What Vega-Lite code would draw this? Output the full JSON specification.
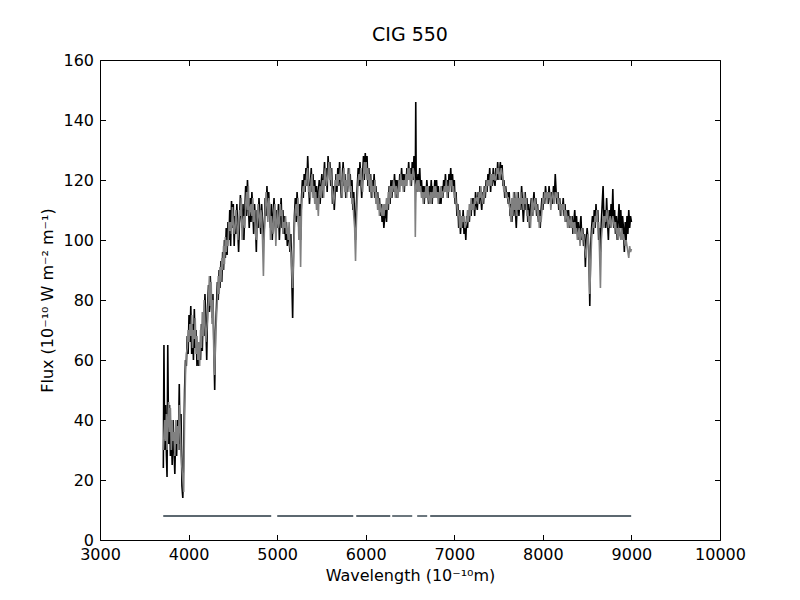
{
  "$schema": "https://vega.github.io/schema/vega-lite/v6.json",
  "autosize": "none",
  "padding": {"left": 100, "top": 60, "right": 80, "bottom": 60},
  "width": 620,
  "height": 480,
  "background": "white",
  "title": {"text": "CIG 550", "fontSize": 19, "fontWeight": "normal", "font": "DejaVu Sans", "color": "black", "offset": 7},
  "config": {
    "view": {"stroke": "black", "strokeWidth": 1},
    "axis": {
      "domain": false, "grid": false, "tickColor": "black", "tickSize": -5.5,
      "labelColor": "black", "labelFont": "DejaVu Sans", "labelFontSize": 16,
      "labelPadding": 12, "labelOverlap": false, "labelFlush": false,
      "titleColor": "black", "titleFont": "DejaVu Sans", "titleFontSize": 16, "titleFontWeight": "normal"
    }
  },
  "datasets": {
    "spec": [
      {"w":3715,"o":24,"m":30},{"w":3722,"o":65,"m":35},{"w":3730,"o":30,"m":40},{"w":3740,"o":45,"m":33},
      {"w":3750,"o":28,"m":42},{"w":3757,"o":21,"m":30},{"w":3765,"o":65,"m":38},{"w":3775,"o":32,"m":46},
      {"w":3785,"o":45,"m":36},{"w":3795,"o":28,"m":44},{"w":3805,"o":38,"m":30},{"w":3815,"o":25,"m":40},
      {"w":3825,"o":40,"m":33},{"w":3835,"o":30,"m":36},{"w":3845,"o":22,"m":28},{"w":3855,"o":36,"m":40},
      {"w":3865,"o":28,"m":32},{"w":3875,"o":40,"m":38},{"w":3885,"o":32,"m":30},{"w":3895,"o":52,"m":45},
      {"w":3905,"o":30,"m":38},{"w":3915,"o":42,"m":28},{"w":3925,"o":18,"m":24},{"w":3935,"o":14,"m":20},
      {"w":3945,"o":30,"m":16},{"w":3955,"o":50,"m":40},{"w":3965,"o":60,"m":55},{"w":3975,"o":58,"m":62},
      {"w":3985,"o":68,"m":64},{"w":3995,"o":62,"m":70},{"w":4005,"o":75,"m":66},{"w":4015,"o":66,"m":72},
      {"w":4025,"o":78,"m":68},{"w":4035,"o":62,"m":75},{"w":4045,"o":72,"m":64},{"w":4055,"o":60,"m":70},
      {"w":4065,"o":77,"m":67},{"w":4075,"o":64,"m":74},{"w":4085,"o":70,"m":62},{"w":4095,"o":58,"m":68},
      {"w":4105,"o":66,"m":60},{"w":4115,"o":58,"m":66},{"w":4125,"o":64,"m":58},{"w":4135,"o":60,"m":70},
      {"w":4145,"o":72,"m":64},{"w":4155,"o":63,"m":76},{"w":4165,"o":76,"m":68},{"w":4175,"o":68,"m":80},
      {"w":4185,"o":82,"m":72},{"w":4195,"o":72,"m":66},{"w":4205,"o":60,"m":70},{"w":4215,"o":78,"m":74},
      {"w":4225,"o":85,"m":80},{"w":4235,"o":76,"m":88},{"w":4245,"o":88,"m":78},{"w":4255,"o":80,"m":86},
      {"w":4265,"o":74,"m":72},{"w":4275,"o":82,"m":80},{"w":4285,"o":66,"m":62},{"w":4295,"o":50,"m":55},
      {"w":4305,"o":70,"m":68},{"w":4315,"o":78,"m":74},{"w":4325,"o":86,"m":80},{"w":4335,"o":80,"m":88},
      {"w":4345,"o":90,"m":82},{"w":4355,"o":84,"m":91},{"w":4365,"o":93,"m":86},{"w":4375,"o":86,"m":94},
      {"w":4385,"o":96,"m":90},{"w":4395,"o":90,"m":98},{"w":4405,"o":100,"m":92},{"w":4415,"o":94,"m":101},
      {"w":4425,"o":104,"m":96},{"w":4435,"o":95,"m":100},{"w":4445,"o":106,"m":98},{"w":4455,"o":100,"m":106},
      {"w":4465,"o":110,"m":103},{"w":4475,"o":98,"m":106},{"w":4485,"o":113,"m":102},{"w":4495,"o":104,"m":111},
      {"w":4505,"o":112,"m":106},{"w":4515,"o":98,"m":102},{"w":4525,"o":108,"m":104},{"w":4535,"o":102,"m":110},
      {"w":4545,"o":112,"m":106},{"w":4555,"o":104,"m":100},{"w":4565,"o":96,"m":104},{"w":4575,"o":106,"m":110},
      {"w":4585,"o":115,"m":108},{"w":4595,"o":108,"m":114},{"w":4605,"o":104,"m":100},{"w":4615,"o":112,"m":106},
      {"w":4625,"o":100,"m":108},{"w":4635,"o":110,"m":104},{"w":4645,"o":118,"m":112},{"w":4655,"o":108,"m":116},
      {"w":4665,"o":120,"m":110},{"w":4675,"o":112,"m":118},{"w":4685,"o":104,"m":108},{"w":4695,"o":114,"m":110},
      {"w":4705,"o":106,"m":112},{"w":4715,"o":116,"m":108},{"w":4725,"o":110,"m":114},{"w":4735,"o":102,"m":106},
      {"w":4745,"o":112,"m":110},{"w":4755,"o":106,"m":102},{"w":4765,"o":96,"m":100},{"w":4775,"o":110,"m":106},
      {"w":4785,"o":104,"m":112},{"w":4795,"o":114,"m":108},{"w":4805,"o":108,"m":104},{"w":4815,"o":102,"m":110},
      {"w":4825,"o":112,"m":108},{"w":4835,"o":106,"m":100},{"w":4845,"o":100,"m":88},{"w":4855,"o":104,"m":102},
      {"w":4865,"o":114,"m":110},{"w":4875,"o":108,"m":116},{"w":4885,"o":118,"m":112},{"w":4895,"o":110,"m":106},
      {"w":4905,"o":116,"m":114},{"w":4915,"o":108,"m":112},{"w":4925,"o":104,"m":100},{"w":4935,"o":112,"m":108},
      {"w":4945,"o":100,"m":104},{"w":4955,"o":108,"m":102},{"w":4965,"o":114,"m":110},{"w":4975,"o":106,"m":112},
      {"w":4985,"o":102,"m":98},{"w":4995,"o":110,"m":106},{"w":5005,"o":104,"m":110},{"w":5015,"o":112,"m":104},
      {"w":5025,"o":100,"m":106},{"w":5035,"o":108,"m":112},{"w":5045,"o":114,"m":108},{"w":5055,"o":104,"m":110},
      {"w":5065,"o":110,"m":102},{"w":5075,"o":102,"m":106},{"w":5085,"o":108,"m":104},{"w":5095,"o":100,"m":108},
      {"w":5105,"o":106,"m":102},{"w":5115,"o":98,"m":104},{"w":5125,"o":104,"m":100},{"w":5135,"o":100,"m":106},
      {"w":5145,"o":96,"m":98},{"w":5155,"o":102,"m":96},{"w":5165,"o":88,"m":90},{"w":5175,"o":74,"m":84},
      {"w":5185,"o":96,"m":94},{"w":5195,"o":108,"m":104},{"w":5205,"o":114,"m":110},{"w":5215,"o":106,"m":112},
      {"w":5225,"o":116,"m":108},{"w":5235,"o":110,"m":114},{"w":5245,"o":104,"m":100},{"w":5255,"o":112,"m":108},
      {"w":5265,"o":100,"m":91},{"w":5275,"o":114,"m":110},{"w":5285,"o":120,"m":116},{"w":5295,"o":114,"m":118},
      {"w":5305,"o":122,"m":116},{"w":5315,"o":116,"m":120},{"w":5325,"o":124,"m":118},{"w":5335,"o":118,"m":122},
      {"w":5345,"o":128,"m":124},{"w":5355,"o":120,"m":116},{"w":5365,"o":112,"m":118},{"w":5375,"o":118,"m":114},
      {"w":5385,"o":124,"m":120},{"w":5395,"o":116,"m":122},{"w":5405,"o":122,"m":114},{"w":5415,"o":114,"m":118},
      {"w":5425,"o":120,"m":112},{"w":5435,"o":112,"m":116},{"w":5445,"o":118,"m":110},{"w":5455,"o":110,"m":114},
      {"w":5465,"o":116,"m":108},{"w":5475,"o":120,"m":116},{"w":5485,"o":112,"m":118},{"w":5495,"o":118,"m":114},
      {"w":5505,"o":122,"m":118},{"w":5515,"o":114,"m":120},{"w":5525,"o":120,"m":114},{"w":5535,"o":126,"m":122},
      {"w":5545,"o":118,"m":124},{"w":5555,"o":124,"m":118},{"w":5565,"o":116,"m":120},{"w":5575,"o":128,"m":122},
      {"w":5585,"o":122,"m":126},{"w":5595,"o":126,"m":120},{"w":5605,"o":118,"m":124},{"w":5615,"o":124,"m":118},
      {"w":5625,"o":112,"m":116},{"w":5635,"o":118,"m":112},{"w":5645,"o":110,"m":114},{"w":5655,"o":116,"m":120},
      {"w":5665,"o":122,"m":118},{"w":5675,"o":116,"m":122},{"w":5685,"o":124,"m":118},{"w":5695,"o":118,"m":122},
      {"w":5705,"o":126,"m":120},{"w":5715,"o":120,"m":124},{"w":5725,"o":114,"m":118},{"w":5735,"o":120,"m":114},
      {"w":5745,"o":126,"m":122},{"w":5755,"o":118,"m":124},{"w":5765,"o":122,"m":116},{"w":5775,"o":114,"m":120},
      {"w":5785,"o":120,"m":114},{"w":5795,"o":116,"m":122},{"w":5805,"o":124,"m":118},{"w":5815,"o":118,"m":124},
      {"w":5825,"o":122,"m":116},{"w":5835,"o":114,"m":118},{"w":5845,"o":120,"m":112},{"w":5855,"o":110,"m":114},
      {"w":5865,"o":116,"m":108},{"w":5875,"o":108,"m":104},{"w":5885,"o":100,"m":93},{"w":5895,"o":112,"m":106},
      {"w":5905,"o":118,"m":114},{"w":5915,"o":124,"m":120},{"w":5925,"o":118,"m":122},{"w":5935,"o":126,"m":120},
      {"w":5945,"o":120,"m":124},{"w":5955,"o":114,"m":118},{"w":5965,"o":122,"m":116},{"w":5975,"o":128,"m":122},
      {"w":5985,"o":120,"m":126},{"w":5995,"o":129,"m":122},{"w":6005,"o":122,"m":126},{"w":6015,"o":128,"m":120},
      {"w":6025,"o":118,"m":124},{"w":6035,"o":124,"m":118},{"w":6045,"o":116,"m":122},{"w":6055,"o":122,"m":116},
      {"w":6065,"o":114,"m":120},{"w":6075,"o":120,"m":114},{"w":6085,"o":116,"m":118},{"w":6095,"o":122,"m":116},
      {"w":6105,"o":114,"m":120},{"w":6115,"o":118,"m":112},{"w":6125,"o":112,"m":116},{"w":6135,"o":116,"m":110},
      {"w":6145,"o":110,"m":114},{"w":6155,"o":114,"m":108},{"w":6165,"o":108,"m":112},{"w":6175,"o":112,"m":110},
      {"w":6185,"o":106,"m":108},{"w":6195,"o":110,"m":112},{"w":6205,"o":104,"m":108},{"w":6215,"o":108,"m":112},
      {"w":6225,"o":112,"m":110},{"w":6235,"o":106,"m":114},{"w":6245,"o":114,"m":110},{"w":6255,"o":110,"m":116},
      {"w":6265,"o":118,"m":112},{"w":6275,"o":112,"m":118},{"w":6285,"o":120,"m":114},{"w":6295,"o":114,"m":118},
      {"w":6305,"o":120,"m":116},{"w":6315,"o":116,"m":120},{"w":6325,"o":122,"m":118},{"w":6335,"o":116,"m":114},
      {"w":6345,"o":120,"m":118},{"w":6355,"o":114,"m":116},{"w":6365,"o":120,"m":114},{"w":6375,"o":116,"m":120},
      {"w":6385,"o":122,"m":116},{"w":6395,"o":118,"m":122},{"w":6405,"o":124,"m":118},{"w":6415,"o":118,"m":120},
      {"w":6425,"o":122,"m":116},{"w":6435,"o":116,"m":120},{"w":6445,"o":122,"m":118},{"w":6455,"o":118,"m":122},
      {"w":6465,"o":124,"m":118},{"w":6475,"o":120,"m":124},{"w":6485,"o":126,"m":120},{"w":6495,"o":120,"m":124},
      {"w":6505,"o":124,"m":118},{"w":6515,"o":118,"m":122},{"w":6525,"o":126,"m":120},{"w":6535,"o":120,"m":124},
      {"w":6545,"o":128,"m":122},{"w":6555,"o":122,"m":118},{"w":6560,"o":118,"m":101},{"w":6565,"o":146,"m":112},
      {"w":6570,"o":120,"m":118},{"w":6580,"o":116,"m":120},{"w":6590,"o":122,"m":116},{"w":6600,"o":118,"m":120},
      {"w":6610,"o":124,"m":116},{"w":6620,"o":116,"m":118},{"w":6630,"o":120,"m":114},{"w":6640,"o":114,"m":116},
      {"w":6650,"o":118,"m":112},{"w":6660,"o":112,"m":116},{"w":6670,"o":118,"m":114},{"w":6680,"o":114,"m":118},
      {"w":6690,"o":120,"m":114},{"w":6700,"o":116,"m":118},{"w":6710,"o":112,"m":114},{"w":6720,"o":118,"m":112},
      {"w":6730,"o":114,"m":116},{"w":6740,"o":120,"m":112},{"w":6750,"o":112,"m":116},{"w":6760,"o":118,"m":114},
      {"w":6770,"o":114,"m":118},{"w":6780,"o":120,"m":114},{"w":6790,"o":116,"m":118},{"w":6800,"o":120,"m":114},
      {"w":6810,"o":114,"m":116},{"w":6820,"o":118,"m":112},{"w":6830,"o":112,"m":116},{"w":6840,"o":116,"m":114},
      {"w":6850,"o":112,"m":118},{"w":6860,"o":118,"m":114},{"w":6870,"o":114,"m":116},{"w":6880,"o":120,"m":116},
      {"w":6890,"o":116,"m":118},{"w":6900,"o":122,"m":116},{"w":6910,"o":116,"m":120},{"w":6920,"o":120,"m":114},
      {"w":6930,"o":114,"m":118},{"w":6940,"o":122,"m":116},{"w":6950,"o":118,"m":120},{"w":6960,"o":124,"m":118},
      {"w":6970,"o":116,"m":120},{"w":6980,"o":122,"m":116},{"w":6990,"o":116,"m":118},{"w":7000,"o":120,"m":114},
      {"w":7010,"o":112,"m":116},{"w":7020,"o":116,"m":112},{"w":7030,"o":108,"m":112},{"w":7040,"o":112,"m":108},
      {"w":7050,"o":104,"m":110},{"w":7060,"o":110,"m":104},{"w":7070,"o":102,"m":108},{"w":7080,"o":108,"m":104},
      {"w":7090,"o":104,"m":108},{"w":7100,"o":110,"m":106},{"w":7110,"o":102,"m":108},{"w":7120,"o":106,"m":104},
      {"w":7130,"o":100,"m":105},{"w":7140,"o":108,"m":106},{"w":7150,"o":104,"m":110},{"w":7160,"o":110,"m":106},
      {"w":7170,"o":106,"m":112},{"w":7180,"o":112,"m":108},{"w":7190,"o":108,"m":114},{"w":7200,"o":114,"m":110},
      {"w":7210,"o":110,"m":112},{"w":7220,"o":114,"m":110},{"w":7230,"o":108,"m":114},{"w":7240,"o":116,"m":112},
      {"w":7250,"o":112,"m":114},{"w":7260,"o":110,"m":114},{"w":7270,"o":116,"m":112},{"w":7280,"o":112,"m":116},
      {"w":7290,"o":118,"m":114},{"w":7300,"o":114,"m":118},{"w":7310,"o":110,"m":114},{"w":7320,"o":116,"m":112},
      {"w":7330,"o":112,"m":116},{"w":7340,"o":118,"m":114},{"w":7350,"o":114,"m":118},{"w":7360,"o":120,"m":116},
      {"w":7370,"o":116,"m":120},{"w":7380,"o":122,"m":118},{"w":7390,"o":118,"m":120},{"w":7400,"o":124,"m":118},
      {"w":7410,"o":116,"m":122},{"w":7420,"o":122,"m":118},{"w":7430,"o":118,"m":122},{"w":7440,"o":124,"m":120},
      {"w":7450,"o":120,"m":122},{"w":7460,"o":118,"m":120},{"w":7470,"o":124,"m":120},{"w":7480,"o":120,"m":124},
      {"w":7490,"o":126,"m":122},{"w":7500,"o":120,"m":124},{"w":7510,"o":122,"m":120},{"w":7520,"o":126,"m":122},
      {"w":7530,"o":120,"m":124},{"w":7540,"o":125,"m":122},{"w":7550,"o":118,"m":120},{"w":7560,"o":120,"m":116},
      {"w":7570,"o":114,"m":118},{"w":7580,"o":118,"m":114},{"w":7590,"o":114,"m":116},{"w":7600,"o":116,"m":114},
      {"w":7610,"o":112,"m":114},{"w":7620,"o":116,"m":112},{"w":7630,"o":108,"m":110},{"w":7640,"o":112,"m":106},
      {"w":7650,"o":106,"m":114},{"w":7660,"o":114,"m":108},{"w":7670,"o":108,"m":116},{"w":7680,"o":116,"m":110},
      {"w":7690,"o":110,"m":114},{"w":7700,"o":104,"m":108},{"w":7710,"o":112,"m":116},{"w":7720,"o":116,"m":110},
      {"w":7730,"o":108,"m":114},{"w":7740,"o":114,"m":110},{"w":7750,"o":110,"m":116},{"w":7760,"o":118,"m":112},
      {"w":7770,"o":112,"m":114},{"w":7780,"o":106,"m":110},{"w":7790,"o":112,"m":116},{"w":7800,"o":116,"m":112},
      {"w":7810,"o":110,"m":114},{"w":7820,"o":114,"m":108},{"w":7830,"o":106,"m":110},{"w":7840,"o":112,"m":106},
      {"w":7850,"o":104,"m":108},{"w":7860,"o":110,"m":104},{"w":7870,"o":114,"m":110},{"w":7880,"o":108,"m":114},
      {"w":7890,"o":112,"m":108},{"w":7900,"o":116,"m":112},{"w":7910,"o":110,"m":114},{"w":7920,"o":114,"m":110},
      {"w":7930,"o":108,"m":112},{"w":7940,"o":112,"m":108},{"w":7950,"o":106,"m":110},{"w":7960,"o":110,"m":104},
      {"w":7970,"o":104,"m":108},{"w":7980,"o":110,"m":106},{"w":7990,"o":114,"m":110},{"w":8000,"o":110,"m":114},
      {"w":8010,"o":116,"m":112},{"w":8020,"o":112,"m":116},{"w":8030,"o":118,"m":114},{"w":8040,"o":114,"m":116},
      {"w":8050,"o":116,"m":112},{"w":8060,"o":112,"m":116},{"w":8070,"o":118,"m":114},{"w":8080,"o":114,"m":116},
      {"w":8090,"o":112,"m":110},{"w":8100,"o":116,"m":114},{"w":8110,"o":112,"m":116},{"w":8120,"o":118,"m":114},
      {"w":8130,"o":114,"m":112},{"w":8140,"o":122,"m":116},{"w":8150,"o":116,"m":114},{"w":8160,"o":112,"m":116},
      {"w":8170,"o":116,"m":112},{"w":8180,"o":110,"m":114},{"w":8190,"o":114,"m":110},{"w":8200,"o":108,"m":112},
      {"w":8210,"o":112,"m":108},{"w":8220,"o":110,"m":112},{"w":8230,"o":114,"m":110},{"w":8240,"o":108,"m":112},
      {"w":8250,"o":112,"m":106},{"w":8260,"o":106,"m":110},{"w":8270,"o":110,"m":108},{"w":8280,"o":106,"m":104},
      {"w":8290,"o":110,"m":108},{"w":8300,"o":104,"m":106},{"w":8310,"o":108,"m":104},{"w":8320,"o":104,"m":108},
      {"w":8330,"o":108,"m":104},{"w":8340,"o":102,"m":106},{"w":8350,"o":106,"m":102},{"w":8360,"o":110,"m":106},
      {"w":8370,"o":104,"m":102},{"w":8380,"o":108,"m":104},{"w":8390,"o":102,"m":100},{"w":8400,"o":106,"m":102},
      {"w":8410,"o":100,"m":104},{"w":8420,"o":104,"m":98},{"w":8430,"o":108,"m":102},{"w":8440,"o":100,"m":104},
      {"w":8450,"o":104,"m":100},{"w":8460,"o":98,"m":102},{"w":8470,"o":102,"m":98},{"w":8480,"o":91,"m":96},
      {"w":8490,"o":100,"m":94},{"w":8500,"o":104,"m":100},{"w":8510,"o":100,"m":102},{"w":8520,"o":96,"m":98},
      {"w":8530,"o":78,"m":82},{"w":8540,"o":98,"m":92},{"w":8550,"o":104,"m":100},{"w":8560,"o":108,"m":104},
      {"w":8570,"o":102,"m":106},{"w":8580,"o":110,"m":104},{"w":8590,"o":104,"m":108},{"w":8600,"o":112,"m":106},
      {"w":8610,"o":106,"m":110},{"w":8620,"o":110,"m":104},{"w":8630,"o":100,"m":106},{"w":8640,"o":104,"m":96},
      {"w":8650,"o":96,"m":84},{"w":8660,"o":106,"m":100},{"w":8670,"o":112,"m":104},{"w":8680,"o":118,"m":108},
      {"w":8690,"o":106,"m":104},{"w":8700,"o":110,"m":108},{"w":8710,"o":104,"m":106},{"w":8720,"o":114,"m":110},
      {"w":8730,"o":106,"m":108},{"w":8740,"o":100,"m":104},{"w":8750,"o":110,"m":106},{"w":8760,"o":104,"m":108},
      {"w":8770,"o":112,"m":104},{"w":8780,"o":106,"m":106},{"w":8790,"o":117,"m":108},{"w":8800,"o":104,"m":106},
      {"w":8810,"o":110,"m":104},{"w":8820,"o":102,"m":106},{"w":8830,"o":108,"m":102},{"w":8840,"o":100,"m":104},
      {"w":8850,"o":106,"m":100},{"w":8860,"o":112,"m":104},{"w":8870,"o":104,"m":102},{"w":8880,"o":110,"m":100},
      {"w":8890,"o":102,"m":104},{"w":8900,"o":108,"m":100},{"w":8910,"o":104,"m":102},{"w":8920,"o":96,"m":100},
      {"w":8930,"o":106,"m":98},{"w":8940,"o":100,"m":100},{"w":8950,"o":108,"m":98},{"w":8960,"o":102,"m":96},
      {"w":8970,"o":110,"m":94},{"w":8980,"o":104,"m":98},{"w":8990,"o":108,"m":96},{"w":9000,"o":106,"m":97}
    ],
    "mask": [
      {"start": 3714, "end": 4933, "level": 8},
      {"start": 5001, "end": 5859, "level": 8},
      {"start": 5893, "end": 6277, "level": 8},
      {"start": 6299, "end": 6525, "level": 8},
      {"start": 6581, "end": 6694, "level": 8},
      {"start": 6728, "end": 8997, "level": 8}
    ]
  },
  "layer": [
    {
      "data": {"name": "spec"},
      "mark": {"type": "line", "color": "black", "strokeWidth": 1.6, "clip": true},
      "encoding": {
        "x": {"field": "w", "type": "quantitative", "scale": {"domain": [3000, 10000], "nice": false, "zero": false},
              "axis": {"values": [3000, 4000, 5000, 6000, 7000, 8000, 9000, 10000], "format": "d", "title": "Wavelength (10⁻¹⁰m)", "titlePadding": 5}},
        "y": {"field": "o", "type": "quantitative", "scale": {"domain": [0, 160], "nice": false},
              "axis": {"values": [0, 20, 40, 60, 80, 100, 120, 140, 160], "title": "Flux (10⁻¹⁰ W m⁻² m⁻¹)", "titlePadding": 7}}
      }
    },
    {
      "data": {"name": "spec"},
      "mark": {"type": "line", "color": "#808080", "strokeWidth": 1.6, "clip": true},
      "encoding": {
        "x": {"field": "w", "type": "quantitative", "axis": null},
        "y": {"field": "m", "type": "quantitative", "axis": null}
      }
    },
    {
      "data": {"name": "mask"},
      "mark": {"type": "rule", "color": "#5c6870", "strokeWidth": 1.8},
      "encoding": {
        "x": {"field": "start", "type": "quantitative",
              "axis": {"orient": "top", "values": [3000, 4000, 5000, 6000, 7000, 8000, 9000, 10000], "labels": false, "title": null}},
        "x2": {"field": "end"},
        "y": {"field": "level", "type": "quantitative",
              "axis": {"orient": "right", "values": [0, 20, 40, 60, 80, 100, 120, 140, 160], "labels": false, "title": null}}
      }
    }
  ],
  "resolve": {"axis": {"x": "independent", "y": "independent"}}
}
